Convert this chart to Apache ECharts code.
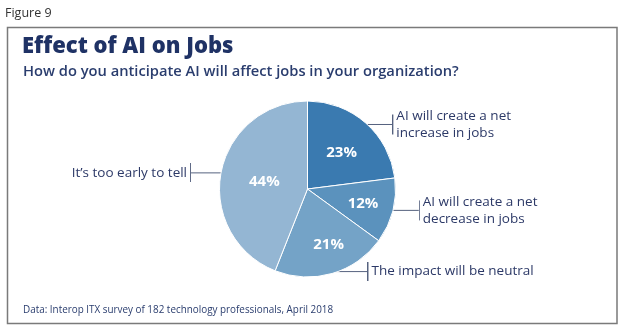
<!DOCTYPE html>
<html><head><meta charset="utf-8">
<script src="https://cdn.jsdelivr.net/npm/echarts@6/dist/echarts.min.js"></script>
<style>html,body{margin:0;padding:0;background:#fff}#c{width:626px;height:333px}</style>
</head><body><div id="c"></div>
<script>
// ---- data ----
const categories = ['AI will create a net increase in jobs', 'AI will create a net decrease in jobs', 'The impact will be neutral', 'It\u2019s too early to tell'];
const labelTexts = ['AI will create a net\nincrease in jobs', 'AI will create a net\ndecrease in jobs', 'The impact will be neutral', 'It\u2019s too early to tell'];
const values = [23, 12, 21, 44];

// ---- styles ----
const colors = ['#3a7ab0', '#5b92bd', '#74a3c7', '#94b6d3'];
const navy = '#2c3967';
const lineColor = '#56627f';
const center = [307.5, 189];
const radius = 88;
const labelRadius = 85;
const length2s = [28, 28, 36, 32];
const insideOffsets = [[3, -1], [10, 3], [8, 11], [3, 2]];
const FONT = '"Open Sans", "Noto Sans", sans-serif';

function barImage(w, h, side, y0, y1) {
  const c = document.createElement('canvas');
  c.width = w; c.height = h;
  const ctx = c.getContext('2d');
  ctx.fillStyle = lineColor;
  ctx.fillRect(side === 'left' ? 0 : w - 1, y0, 1, y1 - y0);
  return c;
}

const chart = echarts.init(document.getElementById('c'), null, {renderer: 'canvas'});

const outerData = categories.map((name, i) => {
  const twoLine = labelTexts[i].indexOf('\n') >= 0;
  const leftSide = i === 3;
  const w = 135;
  const h = twoLine ? 34 : 19;
  return {
    name: name,
    value: values[i],
    label: {
      formatter: labelTexts[i],
      width: w - 4,
      overflow: 'none',
      lineHeight: 17,
      padding: twoLine ? [0, leftSide ? 4 : 0, 0, leftSide ? 0 : 4] : [1, leftSide ? 4 : 0, 1, leftSide ? 0 : 4],
      backgroundColor: {image: barImage(w, h, leftSide ? 'right' : 'left', twoLine ? 7 : 0, twoLine ? 27 : 19)}
    },
    labelLine: {length: 1, length2: length2s[i]}
  };
});

chart.setOption({
  animation: false,
  title: [
    {text: 'Figure 9', left: 5, top: 7, padding: 0, textStyle: {fontFamily: FONT, fontSize: 12.5, fontWeight: 'normal', color: '#333'}},
    {text: 'Effect of AI on Jobs', left: 22, top: 36, padding: 0, textStyle: {fontFamily: FONT, fontSize: 22, fontWeight: 800, color: '#1f3265'}},
    {text: 'How do you anticipate AI will affect jobs in your organization?', left: 23, top: 64, padding: 0, textStyle: {fontFamily: FONT, fontSize: 14.7, fontWeight: 600, color: '#2a3d6e'}},
    {text: 'Data: Interop ITX survey of 182 technology professionals, April 2018', left: 23, top: 305, padding: 0, textStyle: {fontFamily: FONT, fontSize: 9.9, fontWeight: 'normal', color: '#2a3d6e'}}
  ],
  graphic: [
    {type: 'rect', shape: {x: 7.5, y: 27.5, width: 609.5, height: 296}, style: {fill: 'none', stroke: '#7a7a7a', lineWidth: 1.5}, silent: true}
  ],
  series: [
    {
      type: 'pie',
      center: center,
      radius: radius,
      startAngle: 90,
      clockwise: true,
      avoidLabelOverlap: false,
      color: colors,
      itemStyle: {borderColor: '#fff', borderWidth: 1},
      label: {
        show: true, position: 'inside', formatter: '{c}%',
        fontFamily: FONT, fontSize: 15, fontWeight: 'bold', color: '#fff'
      },
      labelLine: {show: false},
      labelLayout: function (p) {
        const o = insideOffsets[p.dataIndex];
        return {dx: o[0], dy: o[1]};
      },
      emphasis: {disabled: true},
      data: categories.map((n, i) => ({name: n, value: values[i]}))
    },
    {
      type: 'pie',
      center: center,
      radius: labelRadius,
      startAngle: 90,
      clockwise: true,
      avoidLabelOverlap: false,
      silent: true,
      z: 1,
      itemStyle: {color: 'rgba(0,0,0,0)', borderWidth: 0},
      label: {
        show: true, position: 'outside', distanceToLabelLine: 0,
        fontFamily: FONT, fontSize: 13.5, color: navy
      },
      labelLine: {show: true, smooth: false, lineStyle: {color: lineColor, width: 1}},
      emphasis: {disabled: true},
      data: outerData
    }
  ]
});
</script></body></html>
